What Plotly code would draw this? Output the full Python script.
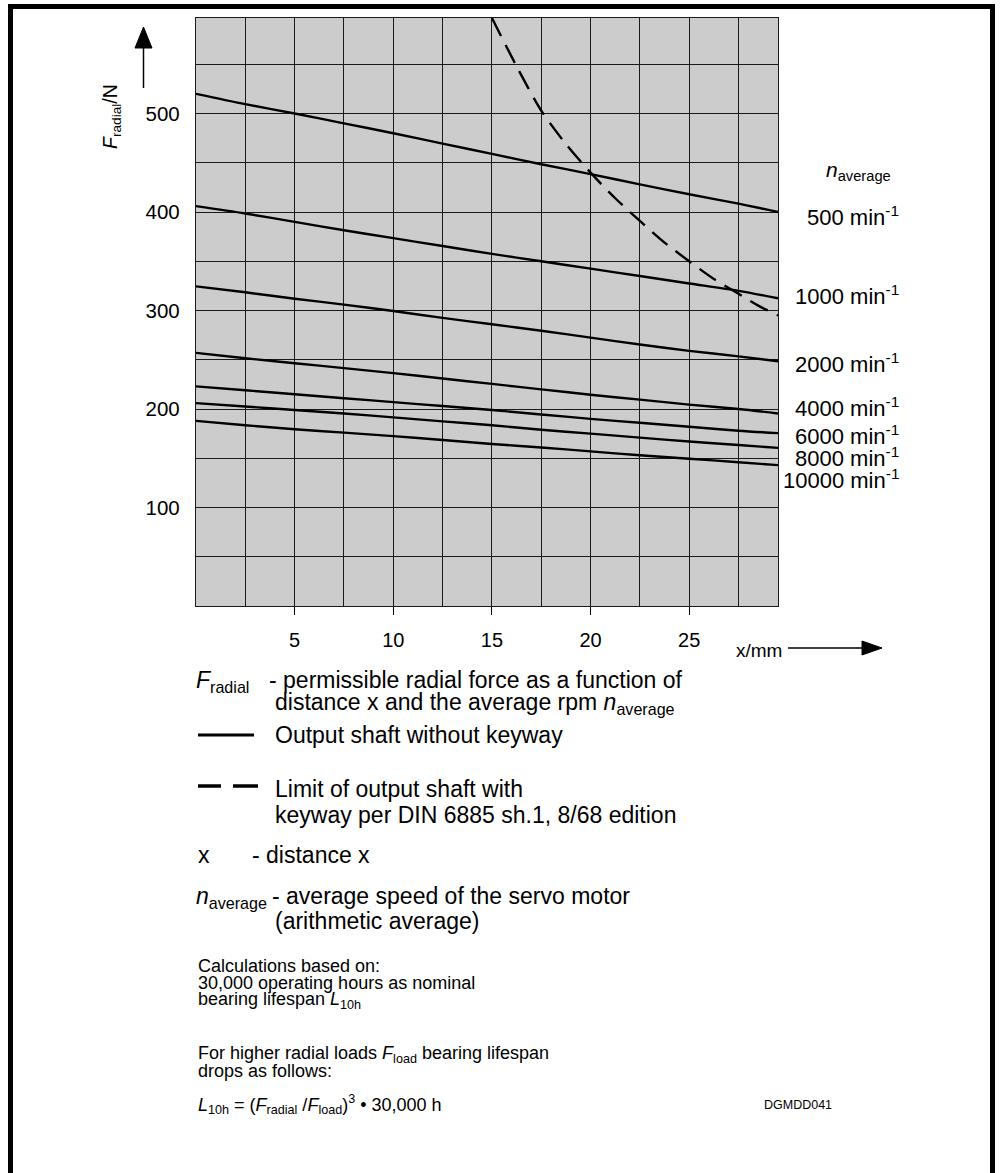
import plotly.graph_objects as go

# ---------------- data ----------------
x_mm = [0, 2.5, 5, 7.5, 10, 12.5, 15, 17.5, 20, 22.5, 25, 27.5, 29.5]
f_500 = [520, 509.5, 500, 490, 480, 469.5, 459, 448.5, 438.5, 428, 418, 408.5, 400]
f_1000 = [406, 398.5, 390, 381.5, 373.5, 365.5, 357.5, 350, 342.5, 335, 327.5, 320, 312.5]
f_2000 = [324.5, 318.5, 312, 306, 299.5, 292.5, 286, 279.5, 272.5, 265.5, 259, 253.5, 248.5]
f_4000 = [257, 251.5, 246.5, 241.5, 236.5, 231, 225.5, 220, 214.5, 209.5, 204.5, 200, 195.5]
f_6000 = [223, 219, 215, 211, 207, 203, 199, 194.5, 190, 186, 182, 178, 175.5]
f_8000 = [206, 202.5, 199, 195.5, 191.5, 187.5, 183.5, 179, 175, 171, 167, 163.5, 160.5]
f_10000 = [188, 183.5, 179.5, 176, 172.5, 168.5, 164.5, 161, 157, 153, 149.5, 146, 143]

x_keyway = [15, 16.25, 17.5, 18.75, 20, 21.25, 22.5, 23.75, 25, 26.25, 27.5, 28.5, 29.5]
f_keyway = [597, 548, 503, 469, 440, 414, 391, 369, 350, 332, 317, 305, 295]

speed_labels = ["500", "1000", "2000", "4000", "6000", "8000", "10000"]
x_ticks = [5, 10, 15, 20, 25]
y_ticks = [100, 200, 300, 400, 500]

# ---------------- geometry helpers (page pixels -> paper) ----------------
W, H = 1001, 1173
L, R, T, B = 196, 778, 18, 606


def px(x):
    return (x - L) / (R - L)


def py(y):
    return (B - y) / (B - T)


FONT = "Liberation Sans, Arial, Helvetica, sans-serif"
NARROW = "Liberation Sans Narrow, Arial Narrow, Liberation Sans, Arial, sans-serif"

fig = go.Figure()

series = [f_500, f_1000, f_2000, f_4000, f_6000, f_8000, f_10000]
for lab, ys in zip(speed_labels, series):
    fig.add_trace(go.Scatter(x=x_mm, y=ys, mode="lines", name=lab + " min-1",
                             line=dict(color="black", width=2.4, shape="spline", smoothing=0.8),
                             showlegend=False))

fig.add_trace(go.Scatter(x=x_keyway, y=f_keyway, mode="lines",
                         line=dict(color="black", width=2.4, dash="20px,10px",
                                   shape="spline", smoothing=0.8),
                         showlegend=False))

grid = "#1a1a1a"
fig.update_xaxes(range=[0, 29.5], tickvals=x_ticks, ticks="outside", ticklen=8,
                 tickwidth=1.3, tickcolor="black", showgrid=True, gridcolor=grid,
                 gridwidth=1.3, zeroline=False, showline=True, linecolor=grid,
                 linewidth=1.3, mirror=True, ticklabelstandoff=8,
                 tickfont=dict(size=20, color="black", family=FONT),
                 minor=dict(tick0=0, dtick=2.5, showgrid=True, gridcolor=grid,
                            gridwidth=1.3, ticks=""))
fig.update_yaxes(range=[0, 597], tickvals=y_ticks, ticks="", showgrid=True,
                 gridcolor=grid, gridwidth=1.3, zeroline=False, showline=True,
                 linecolor=grid, linewidth=1.3, mirror=True, ticklabelstandoff=11,
                 tickfont=dict(size=20.5, color="black", family=FONT),
                 minor=dict(tick0=0, dtick=50, showgrid=True, gridcolor=grid,
                            gridwidth=1.3, ticks=""))

ann = []


def text(t, x, y, size=20, anchor="left", family=FONT, angle=0):
    ann.append(dict(text=t, x=px(x), y=py(y), xref="paper", yref="paper",
                    xanchor=anchor, yanchor="middle", showarrow=False,
                    textangle=angle, font=dict(size=size, color="black", family=family)))


# axis titles
text("<i>F</i><sub>radial</sub>/N", 111, 117, size=19.5, anchor="center", angle=-90)
text("x/mm", 784, 650, size=19, anchor="right")

# speed labels at the right
text("<i>n</i><sub>average</sub>", 858, 171, size=21, anchor="center")
label_y = [216, 295, 363, 407, 435, 457, 479]
for lab, yy in zip(speed_labels, label_y):
    text(lab + " min<sup>-1</sup>", 901, yy, size=22, anchor="right")

# legend block
LS = 23
text("<i>F</i><sub>radial</sub>", 194, 681, size=LS)
text("- permissible radial force as a function of", 267, 680, size=LS)
text("distance x and the average rpm <i>n</i><sub>average</sub>", 273, 703, size=LS)
text("Output shaft without keyway", 273, 735, size=LS)
text("Limit of output shaft with", 273, 789, size=LS)
text("keyway per DIN 6885 sh.1, 8/68 edition", 273, 815, size=LS)
text("x", 196, 855, size=LS)
text("- distance x", 250, 855, size=LS)
text("<i>n</i><sub>average</sub>", 194, 898, size=LS)
text("- average speed of the servo motor", 270, 896, size=LS)
text("(arithmetic average)", 273, 921, size=LS)

NS = 18
text("Calculations based on:", 196, 966, size=NS, family=NARROW)
text("30,000 operating hours as nominal", 196, 983, size=NS, family=NARROW)
text("bearing lifespan <i>L</i><sub>10h</sub>", 196, 1000, size=NS, family=NARROW)
text("For higher radial loads <i>F</i><sub>load</sub> bearing lifespan", 196, 1054, size=NS, family=NARROW)
text("drops as follows:", 196, 1071, size=NS, family=NARROW)
text("<i>L</i><sub>10h</sub> = (<i>F</i><sub>radial</sub> /<i>F</i><sub>load</sub>)<sup>3</sup> • 30,000 h",
     196, 1104, size=NS, family=NARROW)
text("DGMDD041", 762, 1105, size=12.5, family=NARROW)

shapes = []


def seg(x0, y0, x1, y1, w=2.5):
    shapes.append(dict(type="line", xref="paper", yref="paper", x0=px(x0), y0=py(y0),
                       x1=px(x1), y1=py(y1), line=dict(color="black", width=w)))


def tri(pts):
    path = "M " + " L ".join(f"{px(a)},{py(b)}" for a, b in pts) + " Z"
    shapes.append(dict(type="path", xref="paper", yref="paper", path=path,
                       fillcolor="black", line=dict(color="black", width=1)))


# page frame (top, left, right)
seg(8, 6.5, 995, 6.5, w=5)
seg(10.5, 4, 10.5, 1173, w=5)
seg(992.5, 4, 992.5, 1173, w=5)

# axis arrows
seg(143.5, 88, 143.5, 45, w=1.5)
tri([(135, 48), (152, 48), (143.5, 27)])
seg(788, 648, 866, 648, w=1.5)
tri([(862, 641), (862, 655), (882, 648)])

# legend samples
seg(198, 735, 254, 735, w=3)
seg(198, 786, 221, 786, w=3.5)
seg(233, 786, 258, 786, w=3.5)

fig.update_layout(width=W, height=H, margin=dict(l=L, r=W - R, t=T, b=H - B),
                  paper_bgcolor="white", plot_bgcolor="#cccccc",
                  font=dict(family=FONT, color="black"),
                  annotations=ann, shapes=shapes, showlegend=False)

fig.write_html("out.html", config={"displayModeBar": False},
               post_script="document.body.style.margin='0';")
